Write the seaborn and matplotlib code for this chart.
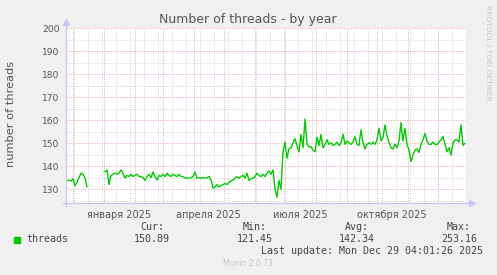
import numpy as np
import pandas as pd
import matplotlib
matplotlib.use("Agg")
import matplotlib.pyplot as plt
from matplotlib.patches import Rectangle
import seaborn as sns

# ---------------- data ----------------
start_date = "2024-11-25"          # first sample, every 2 days
threads_seg1 = [133.5, 134, 133.5, 134.5, 131.5, 133, 135, 137, 136.5, 135, 131]
gap_len = 8
threads_seg2 = [137.5, 138.4, 132, 136, 136.5, 137, 136.5, 137, 138.4, 137, 134.8, 136,
                135.5, 136.5, 135.5, 136, 136.5, 135.5, 135.5, 135, 133.8, 135.5, 136.5, 135,
                137.5, 135.5, 134, 136, 135.5, 136.5, 135.5, 137, 136, 135.5, 136.5, 136,
                135.5, 136.5, 135.5, 135.5, 134.8, 134.8, 134.8, 135, 135.5, 137.5, 134.8, 135,
                134.8, 135, 134.9, 135, 135.5, 134, 130.5, 131, 132, 131, 131.5, 132,
                132.5, 132, 133, 133.6, 134, 134.8, 135.5, 134.8, 135.5, 136, 134.8, 137,
                133.8, 134.5, 134.8, 135.5, 137, 136, 135.5, 136.5, 135.5, 137, 138, 136.5,
                138.4, 130, 126.5, 133.8, 130, 146, 150.5, 143.5, 147.6, 148, 150.2, 152,
                149, 146.2, 153.8, 148, 160.5, 149.5, 148.5, 148.5, 147, 146.3, 152.7, 149,
                153.8, 148, 149.5, 151.5, 149.5, 150.2, 149, 149.5, 150.5, 149, 150.2, 154,
                149.5, 151, 150.2, 149.5, 150.5, 152.9, 149.5, 149, 155.8, 150.5, 147.5, 149.5,
                150.2, 149.5, 150.5, 149.5, 151.5, 156.5, 151, 152.5, 158, 153, 150.5, 148,
                147.5, 149.5, 148, 151, 159, 151, 156.5, 149.5, 147, 142, 144.9, 147,
                147.5, 146, 149.5, 151.5, 154.3, 151, 149.5, 149.5, 150.5, 149.5, 149.5, 150.5,
                151.5, 153, 149.5, 146.3, 148, 144.9, 150, 151.5, 151.5, 150.5, 158, 149,
                150]
y_ticks = [130, 140, 150, 160, 170, 180, 190, 200]
x_label_dates = ["2025-01-16", "2025-04-16", "2025-07-16", "2025-10-16"]
x_labels = ["января 2025", "апреля 2025", "июля 2025", "октября 2025"]
legend_name = "threads"
stat_names = ["Cur:", "Min:", "Avg:", "Max:"]
stat_values = ["150.89", "121.45", "142.34", "253.16"]
last_update = "Last update: Mon Dec 29 04:01:26 2025"
title = "Number of threads - by year"
ylabel = "number of threads"

values = threads_seg1 + [np.nan] * gap_len + threads_seg2
segment = [1] * len(threads_seg1) + [0] * gap_len + [2] * len(threads_seg2)
dates = pd.date_range(start_date, periods=len(values), freq="2D") + pd.Timedelta(hours=4)
df = pd.DataFrame({"date": dates, "threads": values, "segment": segment})
df = df.dropna()

# ---------------- figure ----------------
sns.set_style("white")
plt.rcParams["font.family"] = ["DejaVu Sans"]
W, H = 497, 275
fig = plt.figure(figsize=(W / 100, H / 100), dpi=100, facecolor="#f0f0f0")
L, R, T, B = 66, 466, 28.3, 203
ax = fig.add_axes([L / W, 1 - B / H, (R - L) / W, (B - T) / H])
ax.set_facecolor("white")

def fx(x):
    return x / W

def fy(y):
    return 1 - y / H

x0 = pd.Timestamp("2024-11-24 04:00")
x1 = pd.Timestamp("2025-12-29 04:00")

# grid
minor_grid = "#d4d4d4"
major_grid = "#e8a4a4"
dash = (0, (1, 1.4))
for d in pd.date_range("2024-12-02", "2025-12-29", freq="14D"):
    ax.axvline(d, color=minor_grid, lw=0.7, ls=dash, zorder=0)
for d in pd.date_range("2024-12-01", "2025-12-01", freq="MS"):
    ax.axvline(d, color=major_grid, lw=0.7, ls=dash, zorder=0.5)
for v in range(125, 200, 10):
    ax.axhline(v, color=minor_grid, lw=0.7, ls=dash, zorder=0)
for v in y_ticks:
    ax.axhline(v, color=major_grid, lw=0.7, ls=dash, zorder=0.5)

sns.lineplot(data=df, x="date", y="threads", units="segment", estimator=None,
             color="#00cc00", lw=1.0, ax=ax, zorder=3, legend=False)

ax.set_xlim(x0, x1)
ax.set_ylim(124, 200)
ax.set_yticks(y_ticks)
ax.set_yticklabels([str(v) for v in y_ticks], fontsize=6.6, color="#555555")
ax.set_xticks(pd.to_datetime(x_label_dates))
ax.set_xticklabels(x_labels, fontsize=7, color="#555555")
ax.tick_params(axis="x", length=0, pad=5)
ax.tick_params(axis="y", length=2, color=major_grid, pad=2.5)
ax.set_xlabel("")
ax.set_ylabel("")
ax.grid(False)

for s in ["top", "right"]:
    ax.spines[s].set_visible(False)
axis_col = "#c8c8f4"
ax.spines["left"].set_visible(False)
ax.spines["bottom"].set_visible(False)
ax.plot([0, 0], [-0.015, 1.03], transform=ax.transAxes, color=axis_col, lw=1, clip_on=False, zorder=4)
ax.plot([-0.008, 1.012], [0, 0], transform=ax.transAxes, color=axis_col, lw=1, clip_on=False, zorder=4)
ax.plot([0], [1.035], marker="^", markersize=4, color=axis_col, transform=ax.transAxes, clip_on=False, zorder=4)
ax.plot([1.016], [0], marker=">", markersize=4, color=axis_col, transform=ax.transAxes, clip_on=False, zorder=4)

# texts
fig.text(fx(248), fy(19.5), title, ha="center", va="center", fontsize=9, color="#555555")
fig.text(fx(11), fy(114), ylabel, ha="center", va="center", rotation=90, fontsize=8.2, color="#555555")
fig.text(fx(488), fy(5), "RRDTOOL / TOBI OETIKER", ha="center", va="top", rotation=270,
         fontsize=5.4, color="#c4c4c4")

mono = "DejaVu Sans Mono"
fig.patches.append(Rectangle((fx(14), fy(243)), 6 / W, 6 / H, transform=fig.transFigure,
                             color="#00cc00", zorder=5))
fig.text(fx(26.7), fy(239.5), legend_name, ha="left", va="center", fontsize=7.2,
         family=mono, color="#444444")
stat_x = [152, 255, 357, 459]
for name, val, xx in zip(stat_names, stat_values, stat_x):
    fig.text(fx(xx), fy(227.5), name, ha="center", va="center", fontsize=7.2, family=mono, color="#444444")
    fig.text(fx(xx), fy(239.5), val, ha="center", va="center", fontsize=7.2, family=mono, color="#444444")
fig.text(fx(483), fy(251.5), last_update, ha="right", va="center", fontsize=7.2, family=mono, color="#444444")
fig.text(fx(248), fy(263.7), "Munin 2.0.73", ha="center", va="center", fontsize=5.5, color="#c4c4c4")

fig.savefig("out.png", dpi=100, facecolor=fig.get_facecolor())
